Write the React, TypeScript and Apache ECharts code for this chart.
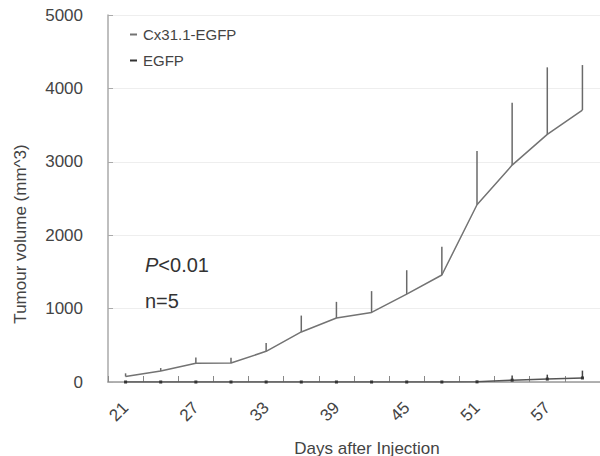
import React, { useEffect, useRef } from "react";
import * as echarts from "echarts";

const days = ["21", "24", "27", "30", "33", "36", "39", "42", "45", "48", "51", "54", "57", "60"];
const cxValues = [75, 150, 255, 258, 418, 682, 872, 948, 1198, 1458, 2415, 2955, 3373, 3705];
const cxTops = [118, 190, 335, 332, 532, 905, 1092, 1238, 1523, 1842, 3146, 3804, 4287, 4318];
const egfpValues = [0, 0, 0, 0, 0, 0, 0, 0, 0, 0, 2, 25, 40, 55];
const egfpTops = [0, 0, 0, 0, 0, 0, 0, 0, 0, 0, 0, 90, 100, 155];
const yTicks = [0, 1000, 2000, 3000, 4000, 5000];
const seriesNames = ["Cx31.1-EGFP", "EGFP"];

const FONT = "Liberation Sans, Arial, sans-serif";

export default function App() {
  const ref = useRef<HTMLDivElement>(null);
  useEffect(() => {
    if (!ref.current) return;
    const chart = echarts.init(ref.current, undefined, { renderer: "svg" });
    const errData = (vals: number[], tops: number[]) =>
      vals.map((v, i) => [i, v, tops[i]]).filter((d) => d[2] > d[1]);
    const errSeries = (name: string, vals: number[], tops: number[], color: string) => ({
      type: "custom",
      name: name + "-err",
      silent: true,
      encode: { x: 0, y: [1, 2] },
      data: errData(vals, tops),
      renderItem: (params: any, api: any) => {
        const p0 = api.coord([api.value(0), api.value(1)]);
        const p1 = api.coord([api.value(0), api.value(2)]);
        return {
          type: "line",
          shape: { x1: p0[0], y1: p0[1], x2: p1[0], y2: p1[1] },
          style: { stroke: color, lineWidth: 1.5 },
        };
      },
      z: 3,
    });
    chart.setOption({
      animation: false,
      backgroundColor: "#ffffff",
      grid: { left: 108, right: -4, top: 15, bottom: 74 },
      legend: {
        orient: "vertical",
        left: 130,
        top: 26,
        padding: 0,
        itemWidth: 7,
        itemHeight: 2,
        itemGap: 9,
        icon: "rect",
        data: seriesNames,
        textStyle: {
          fontFamily: FONT,
          fontSize: 15,
          color: "#444444",
          lineHeight: 17,
          padding: [0, 0, 0, 1],
        },
      },
      xAxis: {
        type: "category",
        data: days,
        boundaryGap: true,
        axisLine: { lineStyle: { color: "#999999", width: 1.5 } },
        axisTick: { show: true, inside: true, length: 6, interval: 0, lineStyle: { color: "#888888" } },
        axisLabel: {
          interval: 1,
          rotate: 45,
          margin: 23,
          fontSize: 17,
          color: "#444444",
          fontFamily: FONT,
        },
        splitLine: { show: false },
      },
      yAxis: {
        type: "value",
        min: yTicks[0],
        max: yTicks[yTicks.length - 1],
        interval: 1000,
        axisLine: { show: true, lineStyle: { color: "#aaaaaa", width: 1.5 } },
        axisTick: { show: true, inside: true, length: 5, lineStyle: { color: "#aaaaaa" } },
        axisLabel: {
          margin: 25,
          fontSize: 17,
          color: "#444444",
          fontFamily: FONT,
          formatter: (v: number) => String(v),
        },
        splitLine: { show: true, lineStyle: { color: "#eeeeee", width: 1 } },
      },
      graphic: [
        {
          type: "text",
          x: 367,
          y: 448,
          style: {
            text: "Days after Injection",
            fontSize: 17,
            fill: "#444444",
            fontFamily: FONT,
            align: "center",
            verticalAlign: "middle",
          },
        },
        {
          type: "text",
          x: 20,
          y: 234,
          rotation: Math.PI / 2,
          style: {
            text: "Tumour volume (mm^3)",
            fontSize: 17,
            fill: "#444444",
            fontFamily: FONT,
            align: "center",
            verticalAlign: "middle",
          },
        },
        {
          type: "text",
          x: 145,
          y: 265,
          style: {
            text: "{i|P}<0.01",
            fontSize: 20,
            fill: "#333333",
            fontFamily: FONT,
            align: "left",
            verticalAlign: "middle",
            rich: {
              i: {
                fontStyle: "italic",
                fontSize: 20,
                fill: "#333333",
                fontFamily: FONT,
              },
            },
          },
        },
        {
          type: "text",
          x: 145,
          y: 301,
          style: {
            text: "n=5",
            fontSize: 20,
            fill: "#333333",
            fontFamily: FONT,
            align: "left",
            verticalAlign: "middle",
          },
        },
      ],
      series: [
        {
          type: "line",
          name: seriesNames[0],
          data: cxValues,
          showSymbol: false,
          symbol: "none",
          lineStyle: { color: "#737373", width: 1.5 },
          itemStyle: { color: "#737373" },
          z: 4,
        },
        {
          type: "line",
          name: seriesNames[1],
          data: egfpValues,
          symbol: "rect",
          symbolSize: 3,
          showSymbol: true,
          lineStyle: { color: "#555555", width: 1.5 },
          itemStyle: { color: "#333333" },
          z: 4,
        },
        errSeries(seriesNames[0], cxValues, cxTops, "#6a6a6a"),
        errSeries(seriesNames[1], egfpValues, egfpTops, "#444444"),
      ],
    });
    return () => chart.dispose();
  }, []);
  return (
    <div
      ref={ref}
      style={{ position: "absolute", left: 0, top: 0, width: 600, height: 456 }}
    />
  );
}
